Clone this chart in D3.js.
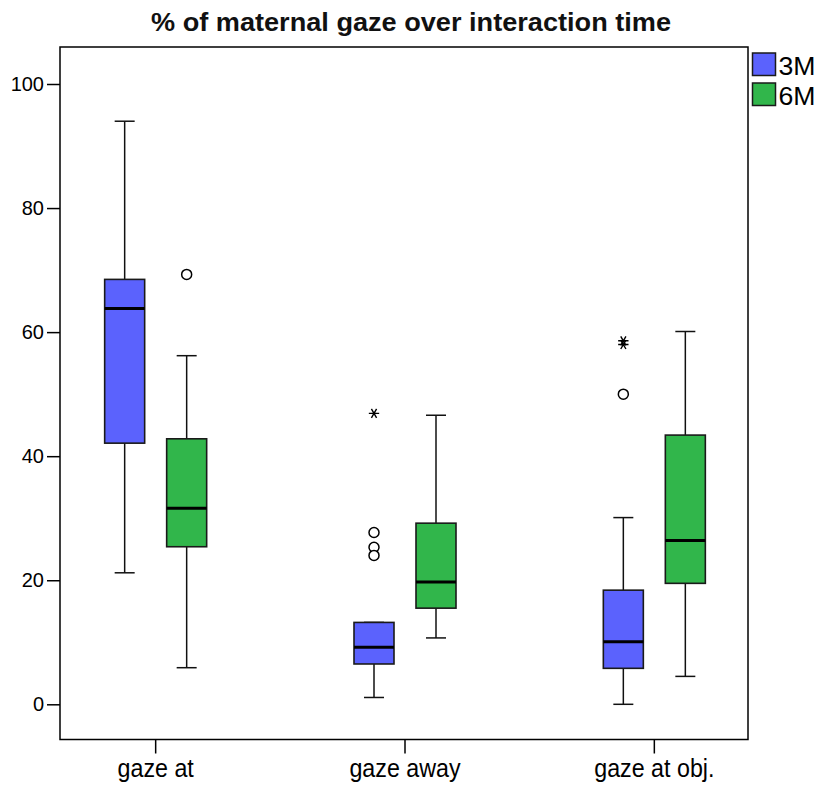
<!DOCTYPE html>
<html>
<head>
<meta charset="utf-8">
<script src="https://cdn.jsdelivr.net/npm/d3@7"></script>
<style>
  html, body { margin: 0; padding: 0; background: #fff; }
  svg { display: block; font-family: "Liberation Sans", Arial, sans-serif; }
</style>
</head>
<body>
<svg id="chart" width="822" height="785"></svg>
<script>
// ---------- data ----------
const categories = ["gaze at", "gaze away", "gaze at obj."];
const groups = ["3M", "6M"];
const yTicks = [0, 20, 40, 60, 80, 100];

const whiskerLow3M  = [21.2, 1.1, 0.0];
const q1_3M         = [42.1, 6.5, 5.8];
const median3M      = [63.8, 9.2, 10.1];
const q3_3M         = [68.5, 13.2, 18.4];
const whiskerHigh3M = [94.0, 13.2, 30.1];

const whiskerLow6M  = [5.9, 10.7, 4.5];
const q1_6M         = [25.4, 15.5, 19.5];
const median6M      = [31.6, 19.7, 26.4];
const q3_6M         = [42.8, 29.2, 43.4];
const whiskerHigh6M = [56.2, 46.6, 60.1];

// outliers (circles) and extremes (stars), per category index
const outliers3M = [[], [27.7, 25.3, 24.0], [50.0]];
const outliers6M = [[69.3], [], []];
const extremes3M = [[], [46.9], [58.6, 58.0]];
const extremes6M = [[], [], []];

const colors = { "3M": "#5b62fd", "6M": "#31b64b" };

// ---------- build table ----------
const stats = [];
categories.forEach((c, i) => {
  stats.push({cat: c, grp: "3M", lo: whiskerLow3M[i], q1: q1_3M[i], med: median3M[i], q3: q3_3M[i], hi: whiskerHigh3M[i], out: outliers3M[i], ext: extremes3M[i]});
  stats.push({cat: c, grp: "6M", lo: whiskerLow6M[i], q1: q1_6M[i], med: median6M[i], q3: q3_6M[i], hi: whiskerHigh6M[i], out: outliers6M[i], ext: extremes6M[i]});
});

// ---------- layout ----------
const frame = {left: 60, right: 748, top: 47, bottom: 739.5};
const svg = d3.select("#chart");

const x = d3.scaleBand().domain(categories).range([31, 779]).padding(0);
const xg = d3.scaleBand().domain(groups).range([-62, 62]).padding(0);
const y = d3.scaleLinear().domain([0, 100]).range([704.3, 84]);

const boxW = 40, capW = 20;
const cx = d => x(d.cat) + x.bandwidth() / 2 + xg(d.grp) + xg.bandwidth() / 2;

// frame
svg.append("rect")
  .attr("x", frame.left).attr("y", frame.top)
  .attr("width", frame.right - frame.left).attr("height", frame.bottom - frame.top)
  .attr("fill", "none").attr("stroke", "#000").attr("stroke-width", 1.5);

// y axis
const yAxis = svg.append("g")
  .attr("transform", `translate(${frame.left},0)`)
  .call(d3.axisLeft(y).tickValues(yTicks).tickSize(13).tickPadding(3).tickFormat(d3.format("d")));
yAxis.select(".domain").remove();
yAxis.selectAll(".tick line").attr("stroke", "#000").attr("stroke-width", 1.5);
yAxis.selectAll(".tick text").attr("font-size", 20).attr("fill", "#000")
  .attr("font-family", "Liberation Sans, Arial, sans-serif");

// x axis
const xAxis = svg.append("g")
  .attr("transform", `translate(0,${frame.bottom})`)
  .call(d3.axisBottom(x).tickSize(14).tickPadding(6));
xAxis.select(".domain").remove();
xAxis.selectAll(".tick line").attr("stroke", "#000").attr("stroke-width", 1.5);
xAxis.selectAll(".tick text").attr("font-size", 25).attr("fill", "#000")
  .attr("font-family", "Liberation Sans, Arial, sans-serif")
  .each(function() {
    const len = this.getComputedTextLength();
    d3.select(this).attr("textLength", len * 0.93).attr("lengthAdjust", "spacingAndGlyphs");
  });

// boxes
const g = svg.append("g");
const box = g.selectAll("g.box").data(stats).join("g").attr("class", "box");

// whiskers
box.append("line")
  .attr("x1", cx).attr("x2", cx)
  .attr("y1", d => y(d.q3)).attr("y2", d => y(d.hi))
  .attr("stroke", "#111").attr("stroke-width", 1.5);
box.append("line")
  .attr("x1", cx).attr("x2", cx)
  .attr("y1", d => y(d.q1)).attr("y2", d => y(d.lo))
  .attr("stroke", "#111").attr("stroke-width", 1.5);
box.append("line")
  .attr("x1", d => cx(d) - capW / 2).attr("x2", d => cx(d) + capW / 2)
  .attr("y1", d => y(d.hi)).attr("y2", d => y(d.hi))
  .attr("stroke", "#111").attr("stroke-width", 1.5);
box.append("line")
  .attr("x1", d => cx(d) - capW / 2).attr("x2", d => cx(d) + capW / 2)
  .attr("y1", d => y(d.lo)).attr("y2", d => y(d.lo))
  .attr("stroke", "#111").attr("stroke-width", 1.5);

// box rect
box.append("rect")
  .attr("x", d => cx(d) - boxW / 2)
  .attr("width", boxW)
  .attr("y", d => y(d.q3))
  .attr("height", d => y(d.q1) - y(d.q3))
  .attr("fill", d => colors[d.grp])
  .attr("stroke", "#1a1a1a").attr("stroke-width", 1.6);

// median
box.append("line")
  .attr("x1", d => cx(d) - boxW / 2).attr("x2", d => cx(d) + boxW / 2)
  .attr("y1", d => y(d.med)).attr("y2", d => y(d.med))
  .attr("stroke", "#000").attr("stroke-width", 3);

// outliers
box.selectAll("circle.out").data(d => d.out.map(v => ({v, d}))).join("circle")
  .attr("class", "out")
  .attr("cx", o => cx(o.d)).attr("cy", o => y(o.v))
  .attr("r", 5).attr("fill", "#fff").attr("stroke", "#000").attr("stroke-width", 1.5);

// extremes
const star = d3.symbol().type(d3.symbolAsterisk).size(75);
box.selectAll("path.ext").data(d => d.ext.map(v => ({v, d}))).join("path")
  .attr("class", "ext")
  .attr("transform", o => `translate(${cx(o.d)},${y(o.v)}) rotate(90)`)
  .attr("d", star)
  .attr("fill", "none").attr("stroke", "#000").attr("stroke-width", 1.4);

// title
svg.append("text")
  .attr("x", 411).attr("y", 31)
  .attr("text-anchor", "middle")
  .attr("font-size", 25).attr("font-weight", "bold").attr("fill", "#111")
  .attr("textLength", 520).attr("lengthAdjust", "spacingAndGlyphs")
  .text("% of maternal gaze over interaction time");

// legend
const legend = svg.append("g");
const leg = legend.selectAll("g").data(groups).join("g")
  .attr("transform", (d, i) => `translate(752.5,${53 + i * 30})`);
leg.append("rect").attr("width", 23).attr("height", 22.5)
  .attr("fill", d => colors[d]).attr("stroke", "#1a1a1a").attr("stroke-width", 1.5);
leg.append("text").attr("x", 26).attr("y", 22)
  .attr("font-size", 25).attr("fill", "#000")
  .attr("textLength", 37).attr("lengthAdjust", "spacingAndGlyphs")
  .text(d => d);
</script>
</body>
</html>
